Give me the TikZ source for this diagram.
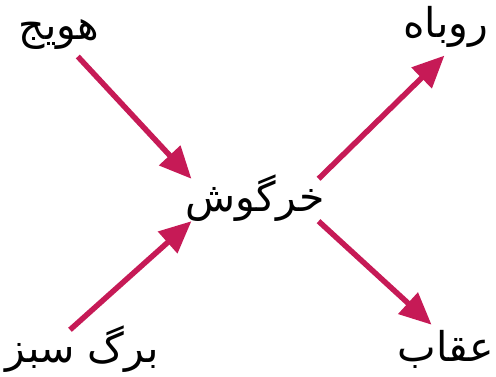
\documentclass[tikz,border=0pt]{standalone}
\usepackage{fontspec}
\usetikzlibrary{arrows.meta}
\newfontfamily\arabicfont[Script=Arabic]{DejaVu Sans}
\TeXXeTstate=1
\definecolor{arrowred}{RGB}{198,26,86}

\begin{document}
\begin{tikzpicture}[x=1pt, y=1pt,
    word/.style={inner sep=0pt, anchor=base, text height=33pt, text depth=9pt,
                 font=\arabicfont\fontsize{41}{48}\selectfont},
    arrow/.style={-{Triangle[length=32pt,width=28pt]}, line width=5.5pt, color=arrowred}
  ]
    \useasboundingbox (0,0) rectangle (496,377);
    \node[word] (carrot) at (59,337) {\beginR هویج\endR};
    \node[word] (fox)    at (446,339) {\beginR روباه\endR};
    \node[word, inner xsep=-6pt] (rabbit) at (255,165) {\beginR خرگوش\endR};
    \node[word] (leaf)   at (82,14)  {\beginR برگ سبز\endR};
    \node[word] (eagle)  at (446,15) {\beginR عقاب\endR};

    \draw[arrow, shorten <=10pt] ([xshift=12pt]carrot.south) -- (rabbit.north west);
    \draw[arrow, shorten >=12pt] (rabbit.north east) -- ([xshift=7pt]fox.south);
    \draw[arrow] ([xshift=-12pt]leaf.north) -- (rabbit.south west);
    \draw[arrow, shorten >=6pt] (rabbit.south east) -- ([xshift=-10pt]eagle.north);
  \end{tikzpicture}
\end{document}
